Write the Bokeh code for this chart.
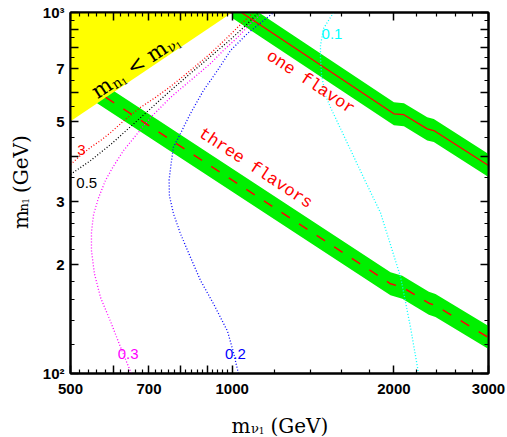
import math
import numpy as np
from bokeh.plotting import figure
from bokeh.layouts import row, column
from bokeh.models import LogAxis, FixedTicker, Label, Range1d
from bokeh.core.properties import value
from bokeh.embed import file_html
from bokeh.resources import INLINE

# ---------------- data (GeV) ----------------
x_lo, x_hi = 500, 3000
y_lo, y_hi = 100, 1000

excluded_x = [500, 500, 1000]
excluded_y = [500, 1000, 1000]

one_flavor_x = [1000, 1082, 2000, 2088, 2307, 2373, 3000]
one_flavor_y = [1039, 962, 524, 521, 476, 471, 377]

three_flavor_x = [500, 1971, 2073, 2323, 2390, 3000]
three_flavor_y = [674, 177.2, 173.4, 156.6, 154.3, 125.8]

contour_3_x = [500, 522, 545, 569, 594, 633, 675, 720, 768, 836, 911, 984, 1045, 1096]
contour_3_y = [379, 402, 423, 442, 465, 506, 546, 582, 624, 691, 770, 858, 938, 1000]

contour_05_x = [500, 545, 594, 647, 705, 768, 836, 911, 993, 1059, 1119]
contour_05_y = [356, 389, 431, 483, 542, 608, 678, 755, 842, 920, 1000]

contour_03_x = [649, 620, 594, 569, 554, 547, 547, 552, 564, 581, 601, 628, 666, 705, 768, 836, 911, 963, 1023, 1082, 1139]
contour_03_y = [100, 118, 139, 162, 189, 219, 246, 276, 307, 343, 375, 415, 462, 512, 582, 648, 722, 785, 853, 932, 1000]

contour_02_x = [1027, 1006, 980, 923, 873, 836, 801, 777, 764, 763, 768, 777, 801, 836, 884, 939, 993, 1068, 1144, 1194]
contour_02_y = [100, 114, 131, 156, 181, 210, 244, 278, 311, 343, 372, 423, 462, 525, 608, 691, 785, 875, 950, 1000]

contour_01_x = [1544, 1479, 1460, 1460, 1467, 1492, 1524, 1639, 1756, 1888, 2058, 2148, 2223]
contour_01_y = [1000, 903, 810, 746, 669, 589, 546, 434, 349, 279, 185, 134, 100]

contour_labels = ["3", "0.5", "0.3", "0.2", "0.1"]
contour_label_x = [524, 536, 640, 1014, 1534]
contour_label_y = [415, 336, 113.6, 113.6, 874]

x_major = [500, 600, 700, 800, 900, 1000, 2000, 3000]
x_major_labels = {500: "500", 700: "700", 1000: "1000", 2000: "2000", 3000: "3000"}
x_minor = [v for v in range(520, 1000, 20) if v % 100 != 0] + [1200, 1400, 1600, 1800, 2200, 2400, 2600, 2800]

y_major = [100, 200, 300, 400, 500, 600, 700, 800, 900, 1000]
y_major_labels = {100: "10²", 200: "2", 300: "3", 500: "5", 700: "7", 1000: "10³"}
y_minor = [120, 140, 160, 180, 220, 240, 260, 280, 350, 450, 550, 650, 750, 850, 950]

# ---------------- styles / layout ----------------
GREEN = "#00f000"
BAND_HALF = 0.032   # half band thickness, decades in y
SERIF = "DejaVu Serif"
SANS = "Liberation Sans"
MONO = "Liberation Mono"

LEFT_W = 34          # strip holding the y title
MAIN_L, MAIN_R, MAIN_T, MAIN_B = 36, 18, 12, 28
FW, FH = 418, 361
MAIN_W = MAIN_L + FW + MAIN_R
MAIN_H = MAIN_T + FH + MAIN_B
BOT_H = 35
TOTAL_W = LEFT_W + MAIN_W


def clip_polygon_below_diag(xs, ys):
    pts = list(zip(np.log10(xs), np.log10(ys)))
    out = []
    n = len(pts)
    for i in range(n):
        P, Q = pts[i], pts[(i + 1) % n]
        fP, fQ = P[1] - P[0], Q[1] - Q[0]
        if fP <= 0:
            out.append(P)
        if (fP <= 0) != (fQ <= 0):
            t = fP / (fP - fQ)
            out.append((P[0] + t * (Q[0] - P[0]), P[1] + t * (Q[1] - P[1])))
    return [10 ** a for a, b in out], [10 ** b for a, b in out]


def clip_line_below_diag(xs, ys):
    pts = list(zip(np.log10(xs), np.log10(ys)))
    out = []
    for i in range(len(pts)):
        P = pts[i]
        fP = P[1] - P[0]
        if i > 0:
            Q = pts[i - 1]
            fQ = Q[1] - Q[0]
            if (fP <= 0) != (fQ <= 0):
                t = fQ / (fQ - fP)
                out.append((Q[0] + t * (P[0] - Q[0]), Q[1] + t * (P[1] - Q[1])))
        if fP <= 0:
            out.append(P)
    return [10 ** a for a, b in out], [10 ** b for a, b in out]


def band(cx, cy):
    lx = np.log10(cx)
    ly = np.log10(cy)
    up_x = list(10 ** lx)
    up_y = list(10 ** (ly + BAND_HALF))
    lo_x = list(10 ** lx[::-1])
    lo_y = list(10 ** (ly[::-1] - BAND_HALF))
    return clip_polygon_below_diag(up_x + lo_x, up_y + lo_y)


p = figure(x_axis_type="log", y_axis_type="log",
           x_range=Range1d(x_lo, x_hi), y_range=Range1d(y_lo, y_hi),
           frame_width=FW, frame_height=FH, title=None,
           min_border_left=MAIN_L, min_border_right=MAIN_R,
           min_border_top=MAIN_T, min_border_bottom=MAIN_B,
           output_backend="svg", toolbar_location=None,
           background_fill_color="white", border_fill_color="white")
p.grid.visible = False
p.outline_line_color = "black"
p.outline_line_width = 2


def style_axis(ax, ticks, minor, labels, show):
    ax.ticker = FixedTicker(ticks=ticks, minor_ticks=minor)
    ax.major_tick_in = 8
    ax.major_tick_out = 0
    ax.minor_tick_in = 4
    ax.minor_tick_out = 0
    ax.major_tick_line_width = 1.5
    ax.minor_tick_line_width = 1.2
    ax.axis_line_width = 2
    ax.axis_label = None
    ax.major_label_overrides = {t: labels.get(t, "") for t in ticks}
    if show:
        ax.major_label_text_font = SANS
        ax.major_label_text_font_style = "bold"
        ax.major_label_text_font_size = "15px"
        ax.major_label_text_color = "black"
    else:
        ax.major_label_text_font_size = "0px"
        ax.major_label_standoff = 0


style_axis(p.xaxis[0], x_major, x_minor, x_major_labels, True)
p.xaxis[0].major_label_standoff = 10
style_axis(p.yaxis[0], y_major, y_minor, y_major_labels, True)
p.yaxis[0].major_label_standoff = 6

top = LogAxis()
style_axis(top, x_major, x_minor, {}, False)
p.add_layout(top, "above")
right = LogAxis()
style_axis(right, y_major, y_minor, {}, False)
p.add_layout(right, "right")

# excluded region
p.patch(excluded_x, excluded_y, fill_color="#ffff00", line_color=None)

# bands
bx, by = band(one_flavor_x, one_flavor_y)
p.patch(bx, by, fill_color=GREEN, line_color=None)
bx, by = band(three_flavor_x, three_flavor_y)
p.patch(bx, by, fill_color=GREEN, line_color=None)

lx, ly = clip_line_below_diag(one_flavor_x, one_flavor_y)
p.line(lx, ly, line_color="red", line_width=1.3)
lx, ly = clip_line_below_diag(three_flavor_x, three_flavor_y)
p.line(lx, ly, line_color="red", line_width=1.5, line_dash="10 11")

# contours
for cx, cy, col in [(contour_3_x, contour_3_y, "red"),
                    (contour_05_x, contour_05_y, "black"),
                    (contour_03_x, contour_03_y, "#ff00ff"),
                    (contour_02_x, contour_02_y, "#0000ff"),
                    (contour_01_x, contour_01_y, "#00ffff")]:
    p.line(cx, cy, line_color=col, line_width=1.3, line_dash="1 2")

label_colors = ["red", "black", "#ff00ff", "#0000ff", "#00ffff"]
for t, x, y, c in zip(contour_labels, contour_label_x, contour_label_y, label_colors):
    p.add_layout(Label(x=x, y=y, text=t, text_color=c, text_font=SANS, text_font_size="15px",
                       text_align="center", text_baseline="middle"))

# band titles
p.add_layout(Label(x=1105, y=370, text="three flavors", text_color="red", text_font=MONO,
                   text_font_size="17px", angle=-0.583, text_align="center", text_baseline="middle"))
p.add_layout(Label(x=1399, y=640, text="one flavor", text_color="red", text_font=MONO,
                   text_font_size="17px", angle=-0.583, text_align="center", text_baseline="middle"))

# label inside the excluded region (composite with subscripts)
ang = 0.586
ca, sa = math.cos(ang), math.sin(ang)
for txt, size, s, d in [("m", 21, 0, 0), ("n", 14, 20.5, 4), ("1", 9, 29.5, 7), ("<", 21, 42, 0),
                        ("m", 21, 66, 0), ("ν", 14, 86.5, 4), ("1", 9, 95, 7)]:
    p.add_layout(Label(x=552, y=597, x_offset=s * ca + d * sa, y_offset=s * sa - d * ca,
                       text=txt, text_font=SERIF, text_font_size=f"{size}px", angle=ang,
                       text_align="left", text_baseline="alphabetic", text_color="black"))


def text_strip(w, h):
    f = figure(width=w, height=h, x_range=Range1d(0, w), y_range=Range1d(0, h),
               x_axis_location=None, y_axis_location=None, output_backend="svg",
               toolbar_location=None, title=None, min_border=0, min_border_left=0,
               min_border_right=0, min_border_top=0, min_border_bottom=0,
               outline_line_color=None,
               background_fill_color="white", border_fill_color="white")
    f.grid.visible = False
    return f


def add_pieces(f, pieces, x0, y0, angle):
    c, s_ = math.cos(angle), math.sin(angle)
    for txt, size, s, d in pieces:
        f.text(x=[x0 + s * c + d * s_], y=[y0 + s * s_ - d * c], text=[txt],
               text_font=value(SERIF), text_font_size=value(f"{size}px"), angle=angle,
               text_align="left", text_baseline="alphabetic", text_color="black")


# y title strip (left), coordinates = pixels from its bottom-left
left = text_strip(LEFT_W, MAIN_H)
y_center = MAIN_H - (MAIN_T + FH / 2)
add_pieces(left, [("m", 20, 0, 0), ("n", 13, 19.5, 3), ("1", 9, 28, 5), ("(GeV)", 20, 40, 0)],
           20, y_center - 48, math.pi / 2)

# x title strip (bottom, full width)
bottom = text_strip(TOTAL_W, BOT_H)
x_center = LEFT_W + MAIN_L + FW / 2
add_pieces(bottom, [("m", 20, 0, 0), ("ν", 13, 19.5, 3), ("1", 9, 27.3, 5), ("(GeV)", 20, 39, 0)],
           x_center - 48, 11, 0.0)

layout = column(row(left, p), bottom)
open("out.html", "w").write(file_html(layout, INLINE))
